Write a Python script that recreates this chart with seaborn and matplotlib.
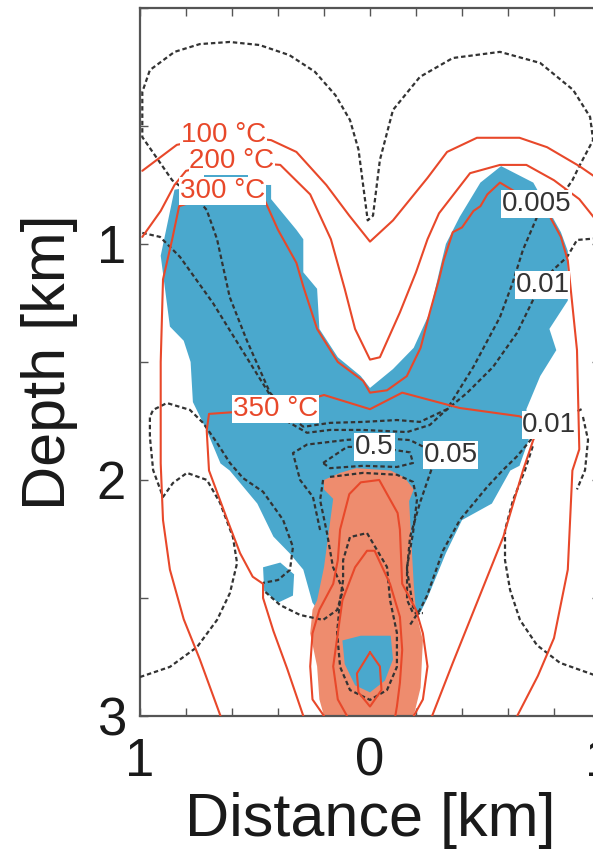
import matplotlib
matplotlib.use("Agg")
import matplotlib.pyplot as plt
import seaborn as sns
import pandas as pd

sns.set_style("ticks")
plt.rcParams["font.family"] = ["Liberation Sans", "DejaVu Sans"]

# ---- colours ----
RED = "#E8482A"
BLUE = "#4AA8CD"
SALMON = "#EE8C6E"
DARK = "#333333"

# ---- filled zones: (distance km, depth km) ----
blue_zone = [(-0.85, 0.77), (-0.72, 0.75), (-0.43, 0.75), (-0.43, 0.81), (-0.32, 0.94),
             (-0.29, 0.98), (-0.29, 1.12), (-0.23, 1.19), (-0.22, 1.36), (-0.14, 1.48),
             (-0.04, 1.56), (0.0, 1.61), (0.10, 1.53), (0.19, 1.44), (0.26, 1.29),
             (0.31, 1.08), (0.33, 1.00), (0.39, 0.885), (0.48, 0.74), (0.57, 0.67),
             (0.71, 0.74), (0.83, 0.95), (0.86, 1.03), (0.86, 1.24), (0.78, 1.36),
             (0.81, 1.45), (0.74, 1.56), (0.68, 1.70), (0.69, 1.83), (0.65, 1.94),
             (0.61, 1.96), (0.53, 2.10), (0.40, 2.17), (0.33, 2.31), (0.25, 2.50),
             (0.22, 2.56), (-0.22, 2.56), (-0.25, 2.52), (-0.29, 2.38), (-0.35, 2.31),
             (-0.42, 2.24), (-0.49, 2.10), (-0.61, 1.96), (-0.65, 1.93), (-0.71, 1.79),
             (-0.77, 1.67), (-0.78, 1.50), (-0.81, 1.41), (-0.87, 1.35), (-0.91, 1.05),
             (-0.88, 0.91)]
blue_blob = [(-0.465, 2.37), (-0.39, 2.35), (-0.33, 2.40), (-0.335, 2.49), (-0.40, 2.52),
             (-0.46, 2.47)]
blue_strip = [(-0.72, 0.70), (-0.53, 0.70), (-0.53, 0.72), (-0.72, 0.72)]
salmon_zone = [(-0.20, 2.0), (-0.13, 1.97), (-0.06, 1.95), (0.09, 1.96), (0.15, 1.99),
               (0.19, 2.04), (0.17, 2.09), (0.19, 2.44), (0.20, 2.56), (0.23, 2.68),
               (0.22, 2.88), (0.19, 3.0), (-0.20, 3.0), (-0.22, 2.93), (-0.23, 2.79),
               (-0.26, 2.65), (-0.25, 2.55), (-0.23, 2.51), (-0.20, 2.37), (-0.16, 2.08),
               (-0.20, 2.04)]
blue_core = [(-0.12, 2.68), (-0.04, 2.66), (0.09, 2.66), (0.10, 2.76), (0.065, 2.85),
             (0.0, 2.90), (-0.065, 2.87), (-0.11, 2.78)]

# ---- isotherms ----
iso_100 = [(-0.99, 0.69), (-0.84, 0.58), (-0.63, 0.54), (-0.43, 0.56), (-0.32, 0.61),
           (-0.19, 0.75), (-0.09, 0.88), (0.0, 0.99), (0.10, 0.90), (0.25, 0.72),
           (0.335, 0.61), (0.465, 0.55), (0.65, 0.55), (0.77, 0.59), (0.91, 0.67),
           (1.0, 0.73)]
iso_200 = [(-0.99, 0.97), (-0.91, 0.86), (-0.85, 0.75), (-0.80, 0.69), (-0.60, 0.65),
           (-0.39, 0.665), (-0.26, 0.79), (-0.17, 0.98), (-0.11, 1.19), (-0.065, 1.36),
           (0.0, 1.49), (0.043, 1.48), (0.13, 1.29), (0.20, 1.12), (0.25, 0.98),
           (0.30, 0.87), (0.435, 0.70), (0.565, 0.665), (0.68, 0.665), (0.80, 0.73),
           (0.91, 0.81), (1.0, 0.92)]
iso_300 = [(-0.65, 3.0), (-0.74, 2.76), (-0.81, 2.59), (-0.87, 2.38), (-0.90, 2.17),
           (-0.91, 1.93), (-0.91, 1.50), (-0.90, 1.15), (-0.86, 0.98), (-0.83, 0.84),
           (-0.64, 0.78), (-0.46, 0.81), (-0.40, 0.94), (-0.32, 1.08), (-0.29, 1.18),
           (-0.23, 1.36), (-0.14, 1.50), (-0.03, 1.58), (0.0, 1.63), (0.074, 1.62),
           (0.16, 1.56), (0.22, 1.44), (0.26, 1.29), (0.30, 1.15), (0.32, 1.07),
           (0.36, 0.95), (0.40, 0.93), (0.45, 0.86), (0.48, 0.84), (0.51, 0.79),
           (0.565, 0.74), (0.72, 0.83), (0.78, 0.88), (0.83, 0.97), (0.86, 1.07),
           (0.90, 1.45), (0.91, 1.87), (0.88, 1.96), (0.86, 2.38), (0.80, 2.67),
           (0.73, 2.83), (0.64, 3.0)]
iso_350 = [(-0.29, 3.0), (-0.36, 2.80), (-0.42, 2.64), (-0.465, 2.50), (-0.465, 2.44),
           (-0.51, 2.41), (-0.565, 2.31), (-0.62, 2.17), (-0.70, 1.96), (-0.71, 1.79),
           (-0.70, 1.72), (-0.41, 1.70), (-0.20, 1.64), (0.0, 1.70), (0.14, 1.63),
           (0.39, 1.695), (0.65, 1.73), (0.74, 1.77), (0.71, 1.83), (0.665, 1.96),
           (0.58, 2.24), (0.465, 2.52), (0.36, 2.775), (0.27, 3.0)]
iso_inner1 = [(-0.20, 3.0), (-0.25, 2.93), (-0.26, 2.79), (-0.25, 2.65), (-0.22, 2.55),
              (-0.16, 2.44), (-0.14, 2.34), (-0.13, 2.21), (-0.09, 2.06), (-0.04, 2.01),
              (0.04, 2.0), (0.12, 2.14), (0.13, 2.21), (0.14, 2.44), (0.20, 2.55),
              (0.23, 2.65), (0.25, 2.79), (0.23, 2.93), (0.19, 3.0)]
iso_inner2 = [(-0.10, 3.0), (-0.14, 2.93), (-0.16, 2.79), (-0.14, 2.65), (-0.12, 2.51),
              (-0.065, 2.37), (-0.013, 2.30), (0.02, 2.30), (0.087, 2.44), (0.13, 2.58),
              (0.14, 2.72), (0.13, 2.86), (0.117, 2.96), (0.11, 3.0)]
iso_inner3 = [(0.0, 2.73), (0.043, 2.79), (0.05, 2.89), (0.0, 2.96), (-0.05, 2.90),
              (-0.057, 2.82), (0.0, 2.73)]

# ---- dashed contours ----
dash_0005 = [(-0.29, 1.775), (-0.35, 1.725), (-0.435, 1.63), (-0.535, 1.41), (-0.61, 1.225),
             (-0.665, 0.98), (-0.71, 0.856), (-0.75, 0.81), (-0.86, 0.73), (-0.99, 0.547),
             (-0.99, 0.356), (-0.957, 0.263), (-0.85, 0.186), (-0.74, 0.153), (-0.61, 0.144),
             (-0.48, 0.157), (-0.35, 0.20), (-0.24, 0.27), (-0.15, 0.37), (-0.087, 0.475),
             (-0.05, 0.60), (-0.03, 0.75), (-0.01, 0.90), (0.013, 0.88), (0.043, 0.644),
             (0.10, 0.432), (0.217, 0.292), (0.36, 0.212), (0.565, 0.186), (0.74, 0.233),
             (0.883, 0.347), (0.957, 0.462), (0.97, 0.56), (0.91, 0.67), (0.88, 0.73),
             (0.83, 0.80), (0.74, 0.835), (0.726, 0.886), (0.665, 1.025), (0.62, 1.165),
             (0.565, 1.31), (0.45, 1.52), (0.335, 1.70), (0.217, 1.754), (0.117, 1.746),
             (-0.03, 1.754), (-0.174, 1.758), (-0.29, 1.775)]
dash_001a = [(-0.99, 0.953), (-0.913, 0.97), (-0.826, 1.055), (-0.683, 1.25), (-0.565, 1.436),
             (-0.448, 1.619), (-0.37, 1.746), (-0.274, 1.80), (-0.174, 1.788), (-0.03, 1.788),
             (0.161, 1.797), (0.26, 1.767), (0.317, 1.716), (0.422, 1.631), (0.535, 1.521),
             (0.639, 1.377), (0.709, 1.237), (0.74, 1.174), (0.796, 1.11), (0.857, 1.055),
             (0.90, 0.983), (1.0, 0.975)]
dash_001b = [(0.92, 1.70), (0.78, 1.767), (0.709, 1.818), (0.639, 1.90), (0.578, 1.958),
             (0.509, 2.03), (0.391, 2.169), (0.317, 2.30), (0.248, 2.49), (0.217, 2.55),
             (0.17, 2.62)]
dash_005 = [(-0.217, 2.212), (-0.248, 2.072), (-0.304, 2.0), (-0.335, 1.886), (-0.274, 1.85),
            (-0.10, 1.83), (0.043, 1.822), (0.174, 1.831), (0.26, 1.873), (0.35, 1.895),
            (0.274, 1.936), (0.217, 2.097), (0.174, 2.242), (0.161, 2.381), (0.187, 2.538),
            (0.217, 2.572)]
dash_05 = [(-0.204, 1.928), (-0.10, 1.86), (0.02, 1.86), (0.174, 1.883), (0.187, 1.928),
           (0.117, 1.945), (-0.03, 1.94), (-0.174, 1.95), (-0.204, 1.928)]
dash_left_loop = [(-1.0, 2.835), (-0.87, 2.792), (-0.752, 2.708), (-0.665, 2.593),
                  (-0.609, 2.479), (-0.578, 2.352), (-0.596, 2.242), (-0.652, 2.097),
                  (-0.709, 2.0), (-0.796, 1.97), (-0.857, 2.013), (-0.90, 2.072),
                  (-0.943, 1.958), (-0.957, 1.818), (-0.957, 1.733), (-0.943, 1.703),
                  (-0.883, 1.674), (-0.783, 1.703), (-0.726, 1.758), (-0.665, 1.843),
                  (-0.609, 1.928), (-0.552, 1.992), (-0.465, 2.05), (-0.378, 2.169),
                  (-0.335, 2.284), (-0.348, 2.381), (-0.40, 2.424), (-0.465, 2.436)]
dash_salmon_edge = [(-0.204, 2.0), (-0.217, 2.085), (-0.187, 2.225), (-0.161, 2.369),
                    (-0.117, 2.466), (-0.143, 2.551), (-0.204, 2.593), (-0.304, 2.572),
                    (-0.391, 2.53), (-0.465, 2.466)]
dash_salmon_top = [(-0.174, 1.987), (-0.03, 1.97), (0.117, 1.978), (0.187, 2.008),
                   (0.204, 2.085), (0.187, 2.225), (0.161, 2.369), (0.161, 2.508),
                   (0.187, 2.564), (0.23, 2.564)]
dash_core = [(-0.117, 2.424), (-0.13, 2.508), (-0.143, 2.648), (-0.13, 2.792), (-0.087, 2.89),
             (0.0, 2.932), (0.074, 2.89), (0.117, 2.792), (0.117, 2.648), (0.087, 2.508),
             (0.074, 2.369), (-0.013, 2.225), (-0.087, 2.242), (-0.117, 2.34), (-0.117, 2.424)]
dash_right_loop = [(1.0, 2.835), (0.826, 2.775), (0.726, 2.70), (0.652, 2.593),
                   (0.609, 2.466), (0.587, 2.34), (0.587, 2.212), (0.622, 2.085),
                   (0.674, 1.958), (0.71, 1.85)]
dash_right_edge = [(0.926, 1.733), (0.948, 1.83), (0.935, 1.958), (0.90, 2.04)]

# ---- labels: (distance, depth, text) ----
temp_labels = [(-0.635, 0.54, "100 °C"), (-0.60, 0.65, "200 °C"),
               (-0.64, 0.775, "300 °C"), (-0.41, 1.70, "350 °C")]
perm_labels = [(0.725, 0.83, "0.005"), (0.75, 1.174, "0.01"), (0.78, 1.767, "0.01"),
               (0.35, 1.895, "0.05"), (0.02, 1.86, "0.5")]

x_ticks = [-1.0, -0.8, -0.6, -0.4, -0.2, 0.0, 0.2, 0.4, 0.6, 0.8, 1.0]
x_tick_labels = ["1", "", "", "", "", "0", "", "", "", "", "1"]
z_ticks = [0.0, 0.5, 1.0, 1.5, 2.0, 2.5, 3.0]
z_tick_labels = ["", "", "1", "", "2", "", "3"]


def patch(ax, pts, color, z):
    xs, zs = zip(*pts)
    ax.fill(xs, zs, color=color, lw=0, zorder=z)


def curve(ax, pts, **kw):
    df = pd.DataFrame(pts, columns=["distance", "depth"])
    sns.lineplot(data=df, x="distance", y="depth", sort=False, estimator=None,
                 ax=ax, legend=False, **kw)


fig = plt.figure(figsize=(5.93, 8.49), dpi=100)
ax = fig.add_axes([0.2361, 0.1567, 0.7757, 0.8339])

patch(ax, blue_zone, BLUE, 1)
patch(ax, blue_blob, BLUE, 1)
patch(ax, blue_strip, BLUE, 1)
patch(ax, salmon_zone, SALMON, 2)
patch(ax, blue_core, BLUE, 3)

dash_kw = dict(color=DARK, lw=1.6, linestyle=(0, (2.0, 1.3)), zorder=4)
for pts in [dash_0005, dash_001a, dash_001b, dash_005, dash_05, dash_left_loop,
            dash_salmon_edge, dash_salmon_top, dash_core, dash_right_loop,
            dash_right_edge]:
    curve(ax, pts, **dash_kw)

red_kw = dict(color=RED, lw=1.5, zorder=5)
for pts in [iso_100, iso_200, iso_300, iso_350, iso_inner1, iso_inner2, iso_inner3]:
    curve(ax, pts, **red_kw)

for x, z, s in temp_labels:
    ax.text(x, z, s, color=RED, fontsize=20, ha="center", va="center", zorder=6,
            bbox=dict(facecolor="white", edgecolor="none", pad=0.5))
for x, z, s in perm_labels:
    ax.text(x, z, s, color=DARK, fontsize=20, ha="center", va="center", zorder=6,
            bbox=dict(facecolor="white", edgecolor="none", pad=0.5))

ax.set_xlim(-1, 1)
ax.set_ylim(3, 0)
ax.set_xticks(x_ticks)
ax.set_xticklabels(x_tick_labels)
ax.set_yticks(z_ticks)
ax.set_yticklabels(z_tick_labels)
ax.tick_params(direction="in", length=6, width=1, top=True, right=True,
               labelsize=38, colors="#555555", labelcolor="#1a1a1a")
ax.tick_params(axis="x", pad=15)
ax.tick_params(axis="y", pad=10)
for sp in ax.spines.values():
    sp.set_visible(True)
    sp.set_color("#555555")
    sp.set_linewidth(1.6)

ax.set_xlabel("Distance [km]", fontsize=44, color="#1a1a1a")
ax.set_ylabel("Depth [km]", fontsize=44, color="#1a1a1a")
ax.xaxis.set_label_coords(0.5, -0.107)
ax.yaxis.set_label_coords(-0.135, 0.5)

fig.savefig("out.png", dpi=100)
